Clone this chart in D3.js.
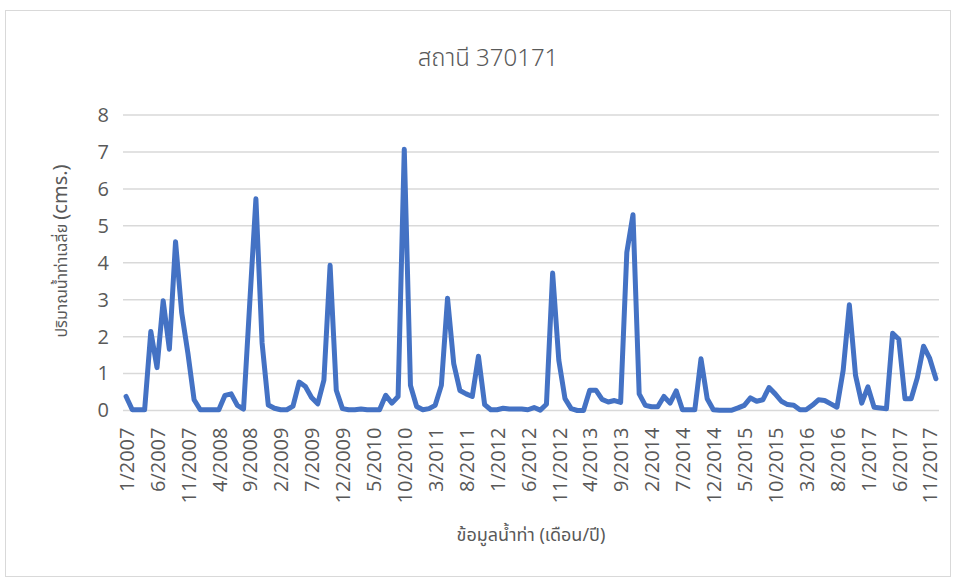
<!DOCTYPE html>
<html>
<head>
<meta charset="utf-8">
<script src="https://cdn.jsdelivr.net/npm/d3@7"></script>
<style>
  html, body { margin: 0; padding: 0; background: #ffffff; }
  svg { display: block; }
  text { font-family: "Noto Sans Thai", "Noto Sans", "Open Sans", sans-serif; fill: #595959; }
</style>
</head>
<body>
<svg id="chart" width="956" height="580"></svg>
<script>
// Monthly mean runoff at station 370171, Jan 2007 – Dec 2017 (cms)
const startYear = 2007;
const flow = [
  0.38, 0.02, 0.02, 0.02, 2.14, 1.16, 2.97, 1.66, 4.57, 2.64, 1.55, 0.29, // 2007
  0.02, 0.02, 0.02, 0.02, 0.41, 0.45, 0.14, 0.04, 2.90, 5.73, 1.83, 0.15, // 2008
  0.06, 0.02, 0.02, 0.12, 0.77, 0.65, 0.35, 0.18, 0.82, 3.93, 0.55, 0.05, // 2009
  0.02, 0.02, 0.04, 0.02, 0.02, 0.02, 0.41, 0.20, 0.38, 7.07, 0.68, 0.11, // 2010
  0.02, 0.05, 0.14, 0.68, 3.04, 1.27, 0.54, 0.45, 0.38, 1.47, 0.16, 0.02, // 2011
  0.02, 0.06, 0.04, 0.04, 0.04, 0.02, 0.08, 0.01, 0.17, 3.72, 1.36, 0.32, // 2012
  0.05, 0.00, 0.00, 0.55, 0.55, 0.30, 0.23, 0.27, 0.22, 4.28, 5.30, 0.45, // 2013
  0.14, 0.10, 0.10, 0.38, 0.20, 0.53, 0.02, 0.02, 0.02, 1.40, 0.32, 0.02, // 2014
  0.01, 0.01, 0.01, 0.07, 0.14, 0.34, 0.25, 0.29, 0.62, 0.45, 0.25, 0.16, // 2015
  0.14, 0.02, 0.02, 0.14, 0.29, 0.27, 0.18, 0.09, 1.09, 2.86, 0.95, 0.20, // 2016
  0.64, 0.09, 0.07, 0.05, 2.09, 1.93, 0.32, 0.32, 0.89, 1.74, 1.41, 0.86  // 2017
];

// Category labels "month/year", one per value
const months = flow.map((_, i) => `${(i % 12) + 1}/${startYear + Math.floor(i / 12)}`);
// Every fifth month is labelled on the axis
const tickLabels = months.filter((_, i) => i % 5 === 0);
const yTicks = [0, 1, 2, 3, 4, 5, 6, 7, 8];

const chartTitle = "สถานี 370171";
const xTitle = "ข้อมูลน้ำท่า (เดือน/ปี)";
const yTitleThai = "ปริมาณน้ำท่าเฉลี่ย";
const yTitleUnit = "(cms.)";

const svg = d3.select("#chart");

// Chart frame
svg.append("rect")
  .attr("x", 5.5).attr("y", 10.5)
  .attr("width", 945).attr("height", 566)
  .attr("fill", "#ffffff")
  .attr("stroke", "#d9d9d9")
  .attr("stroke-width", 1);

const plot = { left: 123, right: 939, top: 115, bottom: 410.5 };

const x = d3.scalePoint()
  .domain(months)
  .range([plot.left, plot.right])
  .padding(0.5);

const y = d3.scaleLinear()
  .domain([0, 8])
  .range([plot.bottom, plot.top]);

// Horizontal gridlines
svg.append("g")
  .selectAll("line")
  .data(yTicks)
  .join("line")
  .attr("x1", plot.left).attr("x2", plot.right)
  .attr("y1", d => y(d)).attr("y2", d => y(d))
  .attr("stroke", "#d9d9d9")
  .attr("stroke-width", 1.5);

// Y axis labels
const yAxis = svg.append("g")
  .attr("transform", `translate(${plot.left - 14},0)`)
  .call(d3.axisLeft(y).tickValues(yTicks).tickSize(0).tickPadding(0).tickFormat(d3.format("d")));
yAxis.select(".domain").remove();
yAxis.selectAll("text")
  .style("font-size", "20px")
  .style("font-family", "'Open Sans', 'Noto Sans', sans-serif")
  .attr("fill", "#595959");

// X axis labels, rotated
const xAxis = svg.append("g")
  .attr("transform", `translate(0,${plot.bottom})`)
  .call(d3.axisBottom(x).tickValues(tickLabels).tickSize(0));
xAxis.select(".domain").remove();
xAxis.selectAll("text")
  .style("font-size", "20px")
  .style("font-family", "'Open Sans', 'Noto Sans', sans-serif")
  .attr("fill", "#595959")
  .attr("transform", "rotate(-90)")
  .attr("x", -17)
  .attr("y", 0)
  .attr("dy", "0.36em")
  .style("text-anchor", "end");

// Runoff line
const line = d3.line()
  .x((d, i) => x(months[i]))
  .y(d => y(d));

svg.append("path")
  .datum(flow)
  .attr("d", line)
  .attr("fill", "none")
  .attr("stroke", "#4472c4")
  .attr("stroke-width", 5)
  .attr("stroke-linejoin", "round")
  .attr("stroke-linecap", "round");

// Title
svg.append("text")
  .attr("x", 488).attr("y", 66)
  .attr("text-anchor", "middle")
  .style("font-size", "24px")
  .style("font-weight", 300)
  .text(chartTitle);

// X axis title
svg.append("text")
  .attr("x", 531).attr("y", 541)
  .attr("text-anchor", "middle")
  .style("font-size", "18px")
  .text(xTitle);

// Y axis title
const yt = svg.append("text")
  .attr("transform", "translate(67,251) rotate(-90)")
  .attr("text-anchor", "middle");
yt.append("tspan").style("font-size", "16px").text(yTitleThai + " ");
yt.append("tspan").style("font-size", "20px").text(yTitleUnit);
</script>
</body>
</html>
